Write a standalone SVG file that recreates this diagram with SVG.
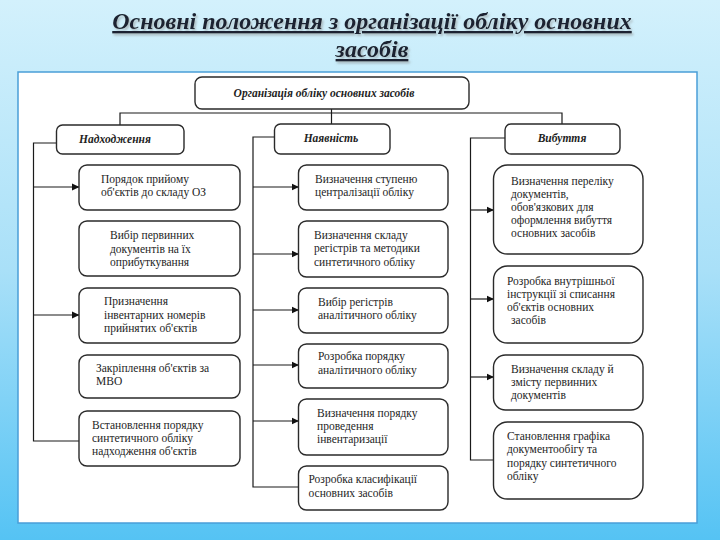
<svg xmlns="http://www.w3.org/2000/svg" width="720" height="540" viewBox="0 0 720 540">
<defs>
<linearGradient id="bg" x1="0" y1="0" x2="0" y2="1">
<stop offset="0" stop-color="#d3f1fc"/>
<stop offset="0.5" stop-color="#a9e0f8"/>
<stop offset="1" stop-color="#55c3f4"/>
</linearGradient>
<filter id="sh" x="-5%" y="-20%" width="110%" height="150%">
<feDropShadow dx="1.5" dy="2" stdDeviation="0.8" flood-color="#888" flood-opacity="0.55"/>
</filter>
<marker id="ar" markerWidth="8" markerHeight="8" refX="7" refY="4" orient="auto" markerUnits="userSpaceOnUse">
<path d="M0,0.5 L7.5,4 L0,7.5 Z" fill="#111"/>
</marker>
</defs>
<style>
.box{fill:#fff;stroke:#2a2a2a;stroke-width:1.4}
.t{font-family:"Liberation Serif","Times New Roman",serif;font-size:11.5px;fill:#1e1e1e}
.c{font-family:"Liberation Serif","Times New Roman",serif;font-size:11.5px;font-style:italic;font-weight:bold;fill:#1e1e1e;text-anchor:middle}
.ttl{font-family:"Liberation Serif","Times New Roman",serif;font-size:24px;font-style:italic;font-weight:bold;fill:#1a2430;text-anchor:middle;text-decoration:underline}
.ln{fill:none;stroke:#1a1a1a;stroke-width:1.2}
</style>
<rect x="0" y="0" width="720" height="540" fill="url(#bg)"/>
<rect x="18" y="72" width="679" height="451" fill="#fff" stroke="#4a9ed8" stroke-width="1.5"/>
<g id="title" filter="url(#sh)">
<text class="ttl" x="372" y="29">Основні положення з організації обліку основних</text>
<text class="ttl" x="372" y="57">засобів</text>
</g>
<g id="connectors">
<path class="ln" d="M331.5,109 V124 M120,125 V113 H562 V124"/>
<path class="ln" d="M56.5,143 H33.5 V441 H79"/>
<path class="ln" marker-end="url(#ar)" d="M33.5,187 H79"/>
<path class="ln" marker-end="url(#ar)" d="M33.5,315 H79"/>
<path class="ln" d="M274.5,137 H253 V487 H298.5"/>
<path class="ln" marker-end="url(#ar)" d="M253,187 H298.5"/>
<path class="ln" marker-end="url(#ar)" d="M253,254 H298.5"/>
<path class="ln" marker-end="url(#ar)" d="M253,310 H298.5"/>
<path class="ln" marker-end="url(#ar)" d="M253,365 H298.5"/>
<path class="ln" marker-end="url(#ar)" d="M253,421 H298.5"/>
<path class="ln" d="M505,138 H470.5 V460 H493.5"/>
<path class="ln" marker-end="url(#ar)" d="M470.5,210 H493.5"/>
<path class="ln" marker-end="url(#ar)" d="M470.5,299 H493.5"/>
<path class="ln" marker-end="url(#ar)" d="M470.5,377 H493.5"/>
</g>
<g id="root">
<rect class="box" x="195" y="77" width="274" height="32" rx="7"/>
<text class="c" x="324" y="97">Організація обліку основних засобів</text>
</g>
<g id="cat-nadh">
<rect class="box" x="56.5" y="125" width="127.5" height="29" rx="6"/>
<text class="c" x="115" y="143">Надходження</text>
</g>
<g id="cat-nayav">
<rect class="box" x="274.5" y="124" width="115.5" height="30" rx="6"/>
<text class="c" x="331" y="142">Наявність</text>
</g>
<g id="cat-vyb">
<rect class="box" x="505" y="124" width="115" height="30" rx="6"/>
<text class="c" x="562" y="142">Вибуття</text>
</g>
<g id="l1">
<rect class="box" x="79" y="165" width="161" height="45" rx="8"/>
<text class="t" x="101" y="183">Порядок прийому</text>
<text class="t" x="101" y="196.2">об'єктів до складу ОЗ</text>
</g>
<g id="l2">
<rect class="box" x="79" y="221" width="161" height="55" rx="8"/>
<text class="t" x="110" y="239.3">Вибір первинних</text>
<text class="t" x="110" y="252.5">документів на їх</text>
<text class="t" x="110" y="265.7">оприбуткування</text>
</g>
<g id="l3">
<rect class="box" x="79" y="288" width="161" height="55" rx="8"/>
<text class="t" x="104" y="305.3">Призначення</text>
<text class="t" x="104" y="318.5">інвентарних номерів</text>
<text class="t" x="104" y="331.7">прийнятих об'єктів</text>
</g>
<g id="l4">
<rect class="box" x="79" y="355" width="161" height="43" rx="8"/>
<text class="t" x="96" y="372">Закріплення об'єктів за</text>
<text class="t" x="96" y="385.2">МВО</text>
</g>
<g id="l5">
<rect class="box" x="79" y="411" width="161" height="55" rx="8"/>
<text class="t" x="92" y="428.5">Встановлення порядку</text>
<text class="t" x="92" y="441.7">синтетичного обліку</text>
<text class="t" x="92" y="454.9">надходження об'єктів</text>
</g>
<g id="m1">
<rect class="box" x="298.5" y="165" width="149.5" height="45" rx="8"/>
<text class="t" x="315" y="183">Визначення ступеню</text>
<text class="t" x="315" y="196.2">централізації обліку</text>
</g>
<g id="m2">
<rect class="box" x="298.5" y="221" width="149.5" height="56" rx="8"/>
<text class="t" x="314" y="239.1">Визначення складу</text>
<text class="t" x="314" y="252.3">регістрів та методики</text>
<text class="t" x="314" y="265.5">синтетичного обліку</text>
</g>
<g id="m3">
<rect class="box" x="298.5" y="288" width="149.5" height="45" rx="8"/>
<text class="t" x="318" y="306">Вибір регістрів</text>
<text class="t" x="318" y="319.2">аналітичного обліку</text>
</g>
<g id="m4">
<rect class="box" x="298.5" y="344" width="149.5" height="44" rx="8"/>
<text class="t" x="318" y="360.4">Розробка порядку</text>
<text class="t" x="318" y="373.6">аналітичного обліку</text>
</g>
<g id="m5">
<rect class="box" x="298.5" y="399" width="149.5" height="56" rx="8"/>
<text class="t" x="317" y="416.5">Визначення порядку</text>
<text class="t" x="317" y="429.7">проведення</text>
<text class="t" x="317" y="442.9">інвентаризації</text>
</g>
<g id="m6">
<rect class="box" x="298.5" y="466" width="149.5" height="44" rx="8"/>
<text class="t" x="308.5" y="483.4">Розробка класифікації</text>
<text class="t" x="308.5" y="496.6">основних засобів</text>
</g>
<g id="r1">
<rect class="box" x="493.5" y="165" width="149.5" height="89" rx="14"/>
<text class="t" x="511" y="184.6">Визначення переліку</text>
<text class="t" x="511" y="197.8">документів,</text>
<text class="t" x="511" y="211">обов'язкових для</text>
<text class="t" x="511" y="224.2">оформлення вибуття</text>
<text class="t" x="511" y="237.4">основних засобів</text>
</g>
<g id="r2">
<rect class="box" x="493.5" y="266" width="149.5" height="77" rx="14"/>
<text class="t" x="507" y="284.7">Розробка внутрішньої</text>
<text class="t" x="507" y="297.9">інструкції зі списання</text>
<text class="t" x="507" y="311.1">об'єктів основних</text>
<text class="t" x="511" y="324.3">засобів</text>
</g>
<g id="r3">
<rect class="box" x="493.5" y="355" width="149.5" height="55" rx="12"/>
<text class="t" x="511" y="372.5">Визначення складу й</text>
<text class="t" x="511" y="385.7">змісту первинних</text>
<text class="t" x="511" y="398.9">документів</text>
</g>
<g id="r4">
<rect class="box" x="493.5" y="422" width="149.5" height="77" rx="14"/>
<text class="t" x="507" y="440.2">Становлення графіка</text>
<text class="t" x="507" y="453.4">документообігу та</text>
<text class="t" x="507" y="466.6">порядку синтетичного</text>
<text class="t" x="507" y="479.8">обліку</text>
</g>
</svg>
